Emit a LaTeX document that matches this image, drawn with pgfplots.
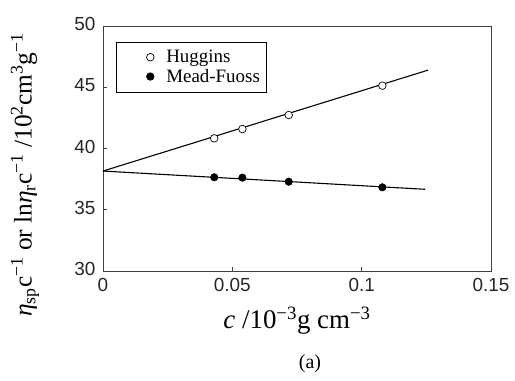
\documentclass[border=0pt]{standalone}
\usepackage{fontspec}
\setmainfont{Liberation Serif}
\setsansfont{Liberation Sans}
\usepackage{pgfplots}
\pgfplotsset{compat=1.18}
\begin{document}
\begin{tikzpicture}
\useasboundingbox (-103bp,-110bp) rectangle (412bp,271bp);
\begin{axis}[
  at={(0,0)}, anchor=south west,
  scale only axis, width=388bp, height=245bp,
  xmin=0, xmax=0.15, ymin=30, ymax=50,
  xtick={0,0.05,0.1,0.15}, xticklabels={0,0.05,0.1,0.15},
  ytick={30,35,40,45,50},
  tick align=inside, major tick length=4bp,
  xtick pos=bottom, ytick pos=left,
  axis line style={draw=black!75, line width=0.7pt},
  tick style={draw=black!75, line width=0.7pt},
  /pgf/number format/assume math mode=true,
  tick label style={font=\fontsize{19}{19}\selectfont\sffamily, text=black!85},
  xticklabel style={yshift=-4bp},
  yticklabel style={xshift=-4bp, yshift=2bp},
  legend style={at={(rel axis cs:0.0335,0.935)}, anchor=north west,
    font=\fontsize{19}{20}\selectfont, draw=black, line width=0.6pt,
    inner xsep=4bp, inner ysep=6bp, row sep=1bp},
  legend cell align=left,
  legend image code/.code={%
    \path[draw=none, fill=none] (0bp,-1bp) rectangle (44bp,1bp);
    \draw[mark repeat=2,mark phase=2] plot coordinates {(0bp,0bp) (30bp,0bp) (44bp,0bp)};},
]
\addplot[black, line width=1.1pt, forget plot] coordinates {(0,38.16) (0.1257,46.4)};
\addplot[black, line width=1.1pt, forget plot] coordinates {(0,38.16) (0.1245,36.67)};
\addplot[only marks, mark=*, mark size=3.8bp, mark options={fill=white, draw=black, line width=0.7pt}]
  coordinates {(0.0430,40.83) (0.0539,41.59) (0.0718,42.73) (0.108,45.13)};
\addlegendentry{Huggins}
\addplot[only marks, mark=*, mark size=3.8bp, mark options={fill=black, draw=black}]
  coordinates {(0.0430,37.65) (0.0539,37.62) (0.0718,37.29) (0.108,36.83)};
\addlegendentry{Mead-Fuoss}
\end{axis}
\node[rotate=90, font=\fontsize{25.5}{25.5}\selectfont] at (-78bp,96bp)
  {\textit{η}\textsubscript{sp}c\textsuperscript{−1} or ln\textit{η}\textsubscript{r}c\textsuperscript{−1} /10\textsuperscript{2}cm\textsuperscript{3}g\textsuperscript{−1}};
\node[font=\fontsize{27}{27}\selectfont] at (194bp,-50bp)
  {\textit{c} /10\textsuperscript{−3}g cm\textsuperscript{−3}};
\node[font=\fontsize{20}{20}\selectfont] at (207bp,-93bp) {(a)};
\end{tikzpicture}
\end{document}
